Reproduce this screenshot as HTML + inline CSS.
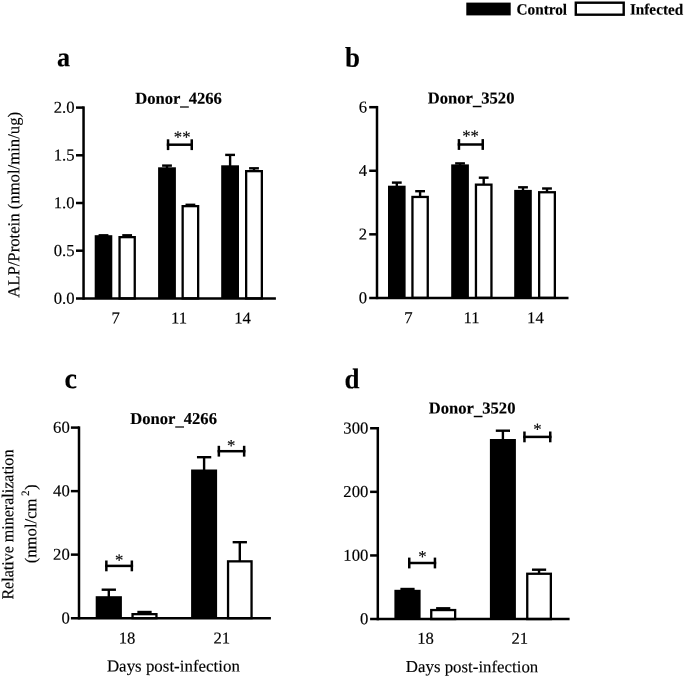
<!DOCTYPE html>
<html><head><meta charset="utf-8"><title>Figure</title>
<style>
html,body{margin:0;padding:0;background:#fff;}
svg{display:block;font-family:"Liberation Serif",serif;fill:#000;}
text{stroke:#000;stroke-width:0.15px;}
</style></head><body>
<svg width="685" height="677" viewBox="0 0 685 677">
<rect x="0" y="0" width="685" height="677" fill="#fff"/>
<rect x="466.3" y="2.6" width="44.4" height="12.8" fill="#000"/>
<rect x="575.8" y="2.7" width="47.9" height="12.0" fill="#fff" stroke="#000" stroke-width="2.4"/>
<text transform="translate(516.50,14.60) rotate(0.04)" font-size="15.6" text-anchor="start" font-weight="bold" textLength="50.6" lengthAdjust="spacingAndGlyphs">Control</text>
<text transform="translate(629.90,14.60) rotate(0.04)" font-size="15.6" text-anchor="start" font-weight="bold" textLength="53.3" lengthAdjust="spacingAndGlyphs">Infected</text>
<text transform="translate(57.0,66.3) rotate(0.05) scale(0.96,1)" font-size="27.3" font-weight="bold">a</text>
<text transform="translate(344.9,66.7) rotate(0.05) scale(0.95,1)" font-size="28.4" font-weight="bold">b</text>
<text transform="translate(64.6,388.2) rotate(0.05) scale(0.97,1)" font-size="29" font-weight="bold">c</text>
<text transform="translate(344.6,388.3) rotate(0.05) scale(0.95,1)" font-size="28.4" font-weight="bold">d</text>
<line x1="103.50" y1="235.30" x2="103.50" y2="236.20" stroke="#000" stroke-width="2.4"/><line x1="98.60" y1="235.30" x2="108.40" y2="235.30" stroke="#000" stroke-width="2.4"/>
<rect x="94.70" y="235.20" width="17.60" height="63.20" fill="#000"/>
<line x1="127.15" y1="235.30" x2="127.15" y2="237.00" stroke="#000" stroke-width="2.4"/><line x1="122.25" y1="235.30" x2="132.05" y2="235.30" stroke="#000" stroke-width="2.4"/>
<rect x="119.55" y="237.15" width="15.20" height="61.25" fill="#fff" stroke="#000" stroke-width="2.3"/>
<line x1="167.00" y1="165.60" x2="167.00" y2="168.30" stroke="#000" stroke-width="2.4"/><line x1="162.10" y1="165.60" x2="171.90" y2="165.60" stroke="#000" stroke-width="2.4"/>
<rect x="158.10" y="167.30" width="17.80" height="131.10" fill="#000"/>
<line x1="190.40" y1="204.80" x2="190.40" y2="206.00" stroke="#000" stroke-width="2.4"/><line x1="185.50" y1="204.80" x2="195.30" y2="204.80" stroke="#000" stroke-width="2.4"/>
<rect x="182.65" y="206.15" width="15.50" height="92.25" fill="#fff" stroke="#000" stroke-width="2.3"/>
<line x1="230.10" y1="154.90" x2="230.10" y2="166.30" stroke="#000" stroke-width="2.4"/><line x1="225.20" y1="154.90" x2="235.00" y2="154.90" stroke="#000" stroke-width="2.4"/>
<rect x="221.20" y="165.30" width="17.80" height="133.10" fill="#000"/>
<line x1="254.00" y1="168.30" x2="254.00" y2="171.00" stroke="#000" stroke-width="2.4"/><line x1="249.10" y1="168.30" x2="258.90" y2="168.30" stroke="#000" stroke-width="2.4"/>
<rect x="246.15" y="171.15" width="15.70" height="127.25" fill="#fff" stroke="#000" stroke-width="2.3"/>
<line x1="83.55" y1="106.35" x2="83.55" y2="299.65" stroke="#000" stroke-width="2.5"/>
<line x1="76.00" y1="107.60" x2="83.55" y2="107.60" stroke="#000" stroke-width="2.5"/>
<text transform="translate(74.60,112.85) rotate(0.04)" font-size="16.7" text-anchor="end">2.0</text>
<line x1="76.00" y1="155.30" x2="83.55" y2="155.30" stroke="#000" stroke-width="2.5"/>
<text transform="translate(74.60,160.55) rotate(0.04)" font-size="16.7" text-anchor="end">1.5</text>
<line x1="76.00" y1="203.00" x2="83.55" y2="203.00" stroke="#000" stroke-width="2.5"/>
<text transform="translate(74.60,208.25) rotate(0.04)" font-size="16.7" text-anchor="end">1.0</text>
<line x1="76.00" y1="250.70" x2="83.55" y2="250.70" stroke="#000" stroke-width="2.5"/>
<text transform="translate(74.60,255.95) rotate(0.04)" font-size="16.7" text-anchor="end">0.5</text>
<text transform="translate(74.60,303.65) rotate(0.04)" font-size="16.7" text-anchor="end">0.0</text>
<line x1="76.00" y1="298.40" x2="275.90" y2="298.40" stroke="#000" stroke-width="2.5"/>
<text transform="translate(115.60,323.60) rotate(0.04)" font-size="16.7" text-anchor="middle">7</text>
<text transform="translate(179.00,323.60) rotate(0.04)" font-size="16.7" text-anchor="middle">11</text>
<text transform="translate(242.60,323.60) rotate(0.04)" font-size="16.7" text-anchor="middle">14</text>
<text transform="translate(135.20,103.80) rotate(0.04)" font-size="16.6" text-anchor="start" font-weight="bold">Donor<tspan dy="1.3">_</tspan><tspan dy="-1.3">4266</tspan></text>
<line x1="396.80" y1="182.60" x2="396.80" y2="186.70" stroke="#000" stroke-width="2.4"/><line x1="391.90" y1="182.60" x2="401.70" y2="182.60" stroke="#000" stroke-width="2.4"/>
<rect x="388.00" y="185.70" width="17.60" height="112.20" fill="#000"/>
<line x1="420.10" y1="191.20" x2="420.10" y2="196.80" stroke="#000" stroke-width="2.4"/><line x1="415.20" y1="191.20" x2="425.00" y2="191.20" stroke="#000" stroke-width="2.4"/>
<rect x="412.45" y="196.95" width="15.30" height="100.95" fill="#fff" stroke="#000" stroke-width="2.3"/>
<line x1="460.05" y1="163.40" x2="460.05" y2="165.40" stroke="#000" stroke-width="2.4"/><line x1="455.15" y1="163.40" x2="464.95" y2="163.40" stroke="#000" stroke-width="2.4"/>
<rect x="451.20" y="164.40" width="17.70" height="133.50" fill="#000"/>
<line x1="483.70" y1="177.70" x2="483.70" y2="184.50" stroke="#000" stroke-width="2.4"/><line x1="478.80" y1="177.70" x2="488.60" y2="177.70" stroke="#000" stroke-width="2.4"/>
<rect x="475.95" y="184.65" width="15.50" height="113.25" fill="#fff" stroke="#000" stroke-width="2.3"/>
<line x1="523.00" y1="187.30" x2="523.00" y2="190.90" stroke="#000" stroke-width="2.4"/><line x1="518.10" y1="187.30" x2="527.90" y2="187.30" stroke="#000" stroke-width="2.4"/>
<rect x="514.20" y="189.90" width="17.60" height="108.00" fill="#000"/>
<line x1="547.00" y1="188.50" x2="547.00" y2="192.10" stroke="#000" stroke-width="2.4"/><line x1="542.10" y1="188.50" x2="551.90" y2="188.50" stroke="#000" stroke-width="2.4"/>
<rect x="539.15" y="192.25" width="15.70" height="105.65" fill="#fff" stroke="#000" stroke-width="2.3"/>
<line x1="377.00" y1="105.95" x2="377.00" y2="299.15" stroke="#000" stroke-width="2.5"/>
<line x1="369.20" y1="107.20" x2="377.00" y2="107.20" stroke="#000" stroke-width="2.5"/>
<text transform="translate(367.00,112.45) rotate(0.04)" font-size="16.7" text-anchor="end">6</text>
<line x1="369.20" y1="170.77" x2="377.00" y2="170.77" stroke="#000" stroke-width="2.5"/>
<text transform="translate(367.00,176.02) rotate(0.04)" font-size="16.7" text-anchor="end">4</text>
<line x1="369.20" y1="234.33" x2="377.00" y2="234.33" stroke="#000" stroke-width="2.5"/>
<text transform="translate(367.00,239.58) rotate(0.04)" font-size="16.7" text-anchor="end">2</text>
<text transform="translate(367.00,303.15) rotate(0.04)" font-size="16.7" text-anchor="end">0</text>
<line x1="369.20" y1="297.90" x2="568.50" y2="297.90" stroke="#000" stroke-width="2.5"/>
<text transform="translate(408.50,323.20) rotate(0.04)" font-size="16.7" text-anchor="middle">7</text>
<text transform="translate(471.60,323.20) rotate(0.04)" font-size="16.7" text-anchor="middle">11</text>
<text transform="translate(535.40,323.20) rotate(0.04)" font-size="16.7" text-anchor="middle">14</text>
<text transform="translate(427.80,103.50) rotate(0.04)" font-size="16.6" text-anchor="start" font-weight="bold">Donor<tspan dy="1.3">_</tspan><tspan dy="-1.3">3520</tspan></text>
<line x1="108.80" y1="589.70" x2="108.80" y2="597.20" stroke="#000" stroke-width="2.4"/><line x1="101.65" y1="589.70" x2="115.95" y2="589.70" stroke="#000" stroke-width="2.4"/>
<rect x="95.70" y="596.20" width="26.20" height="21.95" fill="#000"/>
<line x1="144.50" y1="612.00" x2="144.50" y2="614.00" stroke="#000" stroke-width="2.4"/><line x1="137.35" y1="612.00" x2="151.65" y2="612.00" stroke="#000" stroke-width="2.4"/>
<rect x="132.55" y="614.15" width="23.90" height="4.00" fill="#fff" stroke="#000" stroke-width="2.3"/>
<line x1="204.10" y1="457.20" x2="204.10" y2="470.50" stroke="#000" stroke-width="2.4"/><line x1="196.95" y1="457.20" x2="211.25" y2="457.20" stroke="#000" stroke-width="2.4"/>
<rect x="191.10" y="469.50" width="26.00" height="148.65" fill="#000"/>
<line x1="239.80" y1="542.20" x2="239.80" y2="561.20" stroke="#000" stroke-width="2.4"/><line x1="232.65" y1="542.20" x2="246.95" y2="542.20" stroke="#000" stroke-width="2.4"/>
<rect x="228.05" y="561.35" width="23.50" height="56.80" fill="#fff" stroke="#000" stroke-width="2.3"/>
<line x1="79.00" y1="426.35" x2="79.00" y2="619.40" stroke="#000" stroke-width="2.5"/>
<line x1="70.90" y1="427.60" x2="79.00" y2="427.60" stroke="#000" stroke-width="2.5"/>
<text transform="translate(69.80,432.85) rotate(0.04)" font-size="16.7" text-anchor="end">60</text>
<line x1="70.90" y1="491.12" x2="79.00" y2="491.12" stroke="#000" stroke-width="2.5"/>
<text transform="translate(69.80,496.37) rotate(0.04)" font-size="16.7" text-anchor="end">40</text>
<line x1="70.90" y1="554.63" x2="79.00" y2="554.63" stroke="#000" stroke-width="2.5"/>
<text transform="translate(69.80,559.88) rotate(0.04)" font-size="16.7" text-anchor="end">20</text>
<text transform="translate(69.80,623.40) rotate(0.04)" font-size="16.7" text-anchor="end">0</text>
<line x1="70.90" y1="618.15" x2="270.90" y2="618.15" stroke="#000" stroke-width="2.5"/>
<text transform="translate(127.00,643.40) rotate(0.04)" font-size="16.7" text-anchor="middle">18</text>
<text transform="translate(221.80,643.40) rotate(0.04)" font-size="16.7" text-anchor="middle">21</text>
<text transform="translate(130.30,424.00) rotate(0.04)" font-size="16.6" text-anchor="start" font-weight="bold">Donor<tspan dy="1.3">_</tspan><tspan dy="-1.3">4266</tspan></text>
<line x1="407.50" y1="589.00" x2="407.50" y2="590.80" stroke="#000" stroke-width="2.4"/><line x1="400.40" y1="589.00" x2="414.60" y2="589.00" stroke="#000" stroke-width="2.4"/>
<rect x="394.40" y="589.80" width="26.20" height="29.25" fill="#000"/>
<line x1="443.20" y1="608.30" x2="443.20" y2="609.90" stroke="#000" stroke-width="2.4"/><line x1="436.10" y1="608.30" x2="450.30" y2="608.30" stroke="#000" stroke-width="2.4"/>
<rect x="431.25" y="610.05" width="23.90" height="9.00" fill="#fff" stroke="#000" stroke-width="2.3"/>
<line x1="502.90" y1="430.70" x2="502.90" y2="440.00" stroke="#000" stroke-width="2.4"/><line x1="495.80" y1="430.70" x2="510.00" y2="430.70" stroke="#000" stroke-width="2.4"/>
<rect x="489.90" y="439.00" width="26.00" height="180.05" fill="#000"/>
<line x1="539.05" y1="569.70" x2="539.05" y2="573.60" stroke="#000" stroke-width="2.4"/><line x1="531.95" y1="569.70" x2="546.15" y2="569.70" stroke="#000" stroke-width="2.4"/>
<rect x="527.25" y="573.75" width="23.60" height="45.30" fill="#fff" stroke="#000" stroke-width="2.3"/>
<line x1="377.80" y1="427.00" x2="377.80" y2="620.30" stroke="#000" stroke-width="2.5"/>
<line x1="370.10" y1="428.25" x2="377.80" y2="428.25" stroke="#000" stroke-width="2.5"/>
<text transform="translate(368.40,433.50) rotate(0.04)" font-size="16.7" text-anchor="end">300</text>
<line x1="370.10" y1="491.85" x2="377.80" y2="491.85" stroke="#000" stroke-width="2.5"/>
<text transform="translate(368.40,497.10) rotate(0.04)" font-size="16.7" text-anchor="end">200</text>
<line x1="370.10" y1="555.45" x2="377.80" y2="555.45" stroke="#000" stroke-width="2.5"/>
<text transform="translate(368.40,560.70) rotate(0.04)" font-size="16.7" text-anchor="end">100</text>
<text transform="translate(368.40,624.30) rotate(0.04)" font-size="16.7" text-anchor="end">0</text>
<line x1="370.10" y1="619.05" x2="569.60" y2="619.05" stroke="#000" stroke-width="2.5"/>
<text transform="translate(425.60,643.70) rotate(0.04)" font-size="16.7" text-anchor="middle">18</text>
<text transform="translate(519.80,643.70) rotate(0.04)" font-size="16.7" text-anchor="middle">21</text>
<text transform="translate(428.80,413.50) rotate(0.04)" font-size="16.6" text-anchor="start" font-weight="bold">Donor<tspan dy="1.3">_</tspan><tspan dy="-1.3">3520</tspan></text>
<line x1="166.80" y1="144.70" x2="193.00" y2="144.70" stroke="#000" stroke-width="2.5"/><line x1="168.05" y1="139.30" x2="168.05" y2="150.10" stroke="#000" stroke-width="2.5"/><line x1="191.75" y1="139.30" x2="191.75" y2="150.10" stroke="#000" stroke-width="2.5"/>
<text transform="translate(182.20,142.60) rotate(0.04)" font-size="16.7" text-anchor="middle">**</text>
<line x1="457.70" y1="144.50" x2="484.00" y2="144.50" stroke="#000" stroke-width="2.5"/><line x1="458.95" y1="139.10" x2="458.95" y2="149.90" stroke="#000" stroke-width="2.5"/><line x1="482.75" y1="139.10" x2="482.75" y2="149.90" stroke="#000" stroke-width="2.5"/>
<text transform="translate(470.60,141.50) rotate(0.04)" font-size="16.7" text-anchor="middle">**</text>
<line x1="105.10" y1="565.90" x2="133.10" y2="565.90" stroke="#000" stroke-width="2.5"/><line x1="106.35" y1="560.50" x2="106.35" y2="571.30" stroke="#000" stroke-width="2.5"/><line x1="131.85" y1="560.50" x2="131.85" y2="571.30" stroke="#000" stroke-width="2.5"/>
<text transform="translate(119.20,565.50) rotate(0.04)" font-size="16.7" text-anchor="middle">*</text>
<line x1="217.60" y1="451.20" x2="245.40" y2="451.20" stroke="#000" stroke-width="2.5"/><line x1="218.85" y1="445.80" x2="218.85" y2="456.60" stroke="#000" stroke-width="2.5"/><line x1="244.15" y1="445.80" x2="244.15" y2="456.60" stroke="#000" stroke-width="2.5"/>
<text transform="translate(231.10,451.10) rotate(0.04)" font-size="16.7" text-anchor="middle">*</text>
<line x1="408.00" y1="563.00" x2="436.20" y2="563.00" stroke="#000" stroke-width="2.5"/><line x1="409.25" y1="557.60" x2="409.25" y2="568.40" stroke="#000" stroke-width="2.5"/><line x1="434.95" y1="557.60" x2="434.95" y2="568.40" stroke="#000" stroke-width="2.5"/>
<text transform="translate(422.40,562.10) rotate(0.04)" font-size="16.7" text-anchor="middle">*</text>
<line x1="523.20" y1="436.90" x2="551.50" y2="436.90" stroke="#000" stroke-width="2.5"/><line x1="524.45" y1="431.50" x2="524.45" y2="442.30" stroke="#000" stroke-width="2.5"/><line x1="550.25" y1="431.50" x2="550.25" y2="442.30" stroke="#000" stroke-width="2.5"/>
<text transform="translate(537.50,434.80) rotate(0.04)" font-size="16.7" text-anchor="middle">*</text>
<text transform="translate(106.90,671.40) rotate(0.04)" font-size="16.7" text-anchor="start" textLength="133" lengthAdjust="spacingAndGlyphs">Days post-infection</text>
<text transform="translate(405.80,672.10) rotate(0.04)" font-size="16.7" text-anchor="start" textLength="132.5" lengthAdjust="spacingAndGlyphs">Days post-infection</text>
<text transform="translate(19.2,297.8) rotate(-89.96)" font-size="16.7">ALP/Protein (nmol/min/ug)</text>
<text transform="translate(13.2,599.6) rotate(-89.96)" font-size="16.7" textLength="150" lengthAdjust="spacingAndGlyphs">Relative mineralization</text>
<text transform="translate(36.2,563.3) rotate(-89.96)" font-size="16.7">(nmol/cm<tspan font-size="11.2" dx="2.4" dy="-7.3">2</tspan><tspan dx="0.5" dy="7.3">)</tspan></text>
</svg>
</body></html>
